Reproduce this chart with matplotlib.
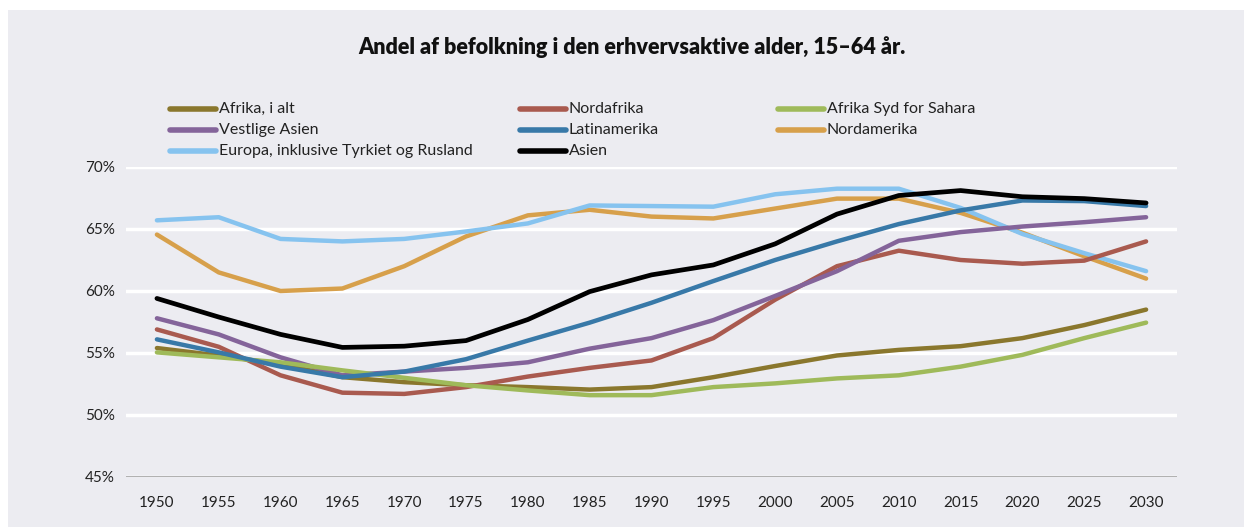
import matplotlib.pyplot as plt
from matplotlib.patches import Rectangle
from matplotlib.lines import Line2D

plt.rcParams['font.family'] = ['Lato', 'DejaVu Sans']

years = [1950, 1955, 1960, 1965, 1970, 1975, 1980, 1985, 1990,
         1995, 2000, 2005, 2010, 2015, 2020, 2025, 2030]

afrika_alt = [55.4, 54.8, 54.1, 53.05, 52.65, 52.4, 52.25, 52.05, 52.25,
              53.05, 53.95, 54.8, 55.25, 55.55, 56.2, 57.25, 58.5]
nordafrika = [56.9, 55.5, 53.2, 51.8, 51.7, 52.25, 53.1, 53.8, 54.4,
              56.2, 59.3, 62.0, 63.25, 62.5, 62.2, 62.45, 64.0]
syd_sahara = [55.05, 54.65, 54.25, 53.6, 53.0, 52.4, 51.98, 51.6, 51.6,
              52.25, 52.55, 52.95, 53.2, 53.9, 54.85, 56.2, 57.45]
vestlige_asien = [57.8, 56.5, 54.65, 53.2, 53.5, 53.8, 54.25, 55.35, 56.2,
                  57.65, 59.6, 61.6, 64.05, 64.75, 65.2, 65.55, 65.95]
latinamerika = [56.1, 55.05, 53.9, 53.05, 53.5, 54.5, 56.0, 57.45, 59.05,
                60.8, 62.5, 64.0, 65.4, 66.5, 67.3, 67.25, 66.85]
nordamerika = [64.55, 61.5, 60.0, 60.2, 62.0, 64.4, 66.1, 66.55, 66.0,
               65.85, 66.65, 67.45, 67.45, 66.3, 64.7, 62.8, 61.0]
europa = [65.7, 65.95, 64.2, 64.0, 64.2, 64.8, 65.45, 66.9, 66.85,
          66.8, 67.8, 68.25, 68.25, 66.7, 64.6, 63.05, 61.6]
asien = [59.4, 57.9, 56.5, 55.45, 55.55, 56.0, 57.7, 59.95, 61.3,
         62.1, 63.8, 66.2, 67.7, 68.1, 67.6, 67.45, 67.1]

yticks = [45, 50, 55, 60, 65, 70]

bg = '#ECECF1'
fig = plt.figure(figsize=(12.46, 5.27), dpi=100, facecolor='white')
fig.patches.append(Rectangle((8 / 1246, 0), 1236 / 1246, 517 / 527,
                             transform=fig.transFigure, facecolor=bg,
                             edgecolor='none', zorder=-5))

ax = fig.add_axes([126 / 1246, 50 / 527, 1051 / 1246, 310 / 527])
ax.set_facecolor(bg)

# series, in the order of the legend columns
series = [
    ('Afrika, i alt', afrika_alt, '#8A772D'),
    ('Vestlige Asien', vestlige_asien, '#84649A'),
    ('Europa, inklusive Tyrkiet og Rusland', europa, '#86C3EF'),
    ('Nordafrika', nordafrika, '#A95A4F'),
    ('Latinamerika', latinamerika, '#3879A8'),
    ('Asien', asien, '#000000'),
    ('Afrika Syd for Sahara', syd_sahara, '#9FBA5A'),
    ('Nordamerika', nordamerika, '#D7A04B'),
]
draw_order = ['Nordamerika', 'Europa, inklusive Tyrkiet og Rusland',
              'Afrika, i alt', 'Nordafrika', 'Vestlige Asien',
              'Afrika Syd for Sahara', 'Latinamerika', 'Asien']
lookup = {name: (vals, col) for name, vals, col in series}
for i, name in enumerate(draw_order):
    vals, col = lookup[name]
    ax.plot(years, vals, color=col, lw=3.2 if name != 'Asien' else 3.4,
            solid_capstyle='round', zorder=3 + i)

ax.set_xlim(1947.5, 2032.5)
ax.set_ylim(45, 70)
ax.set_xticks(years)
ax.set_yticks(yticks)
ax.set_yticklabels([f'{t}%' for t in yticks])
ax.grid(axis='y', color='white', lw=2.5, zorder=1)
ax.set_axisbelow(True)
for s in ax.spines.values():
    s.set_visible(False)
ax.axhline(45, color='#A8A8A8', lw=2, zorder=2)
ax.tick_params(length=0, labelsize=11, colors='#222222')
ax.tick_params(axis='x', pad=14)
ax.tick_params(axis='y', pad=8)

fig.text(632 / 1246, 1 - 47 / 527, 'Andel af befolkning i den erhvervsaktive alder, 15\u201364 år.',
         ha='center', va='center', fontsize=15.5, fontweight='heavy', color='#111111')

# legend in three columns, placed by hand
col_x = [170, 520, 778]
row_y = [109, 130, 151]
k = 0
for c, n in enumerate([3, 3, 2]):
    for r in range(n):
        name, vals, col = series[k]
        k += 1
        y = 1 - row_y[r] / 527
        fig.add_artist(Line2D([col_x[c] / 1246, (col_x[c] + 46) / 1246], [y, y],
                              color=col, lw=4, solid_capstyle='round',
                              transform=fig.transFigure))
        fig.text((col_x[c] + 49) / 1246, y, name, ha='left', va='center',
                 fontsize=11.5, color='#222222')

fig.savefig('out.png', dpi=100, facecolor='white')
